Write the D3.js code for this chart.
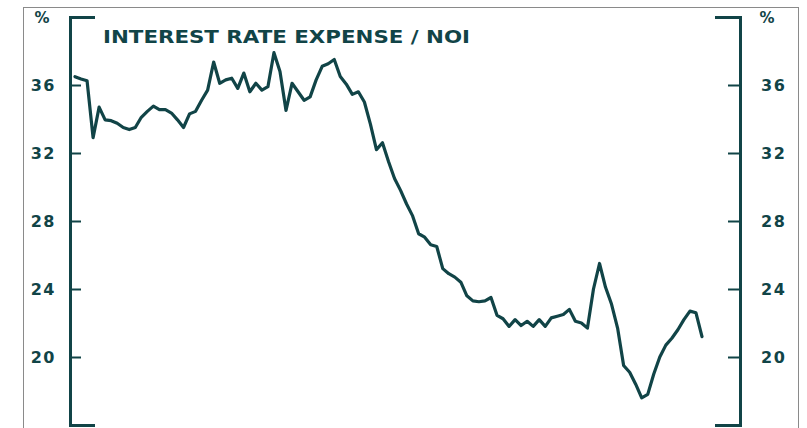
<!DOCTYPE html>
<html>
<head>
<meta charset="utf-8">
<script src="https://cdn.jsdelivr.net/npm/d3@7"></script>
<style>
  body { margin: 0; background: #fff; }
  svg { display: block; }
  text { font-family: "DejaVu Sans", sans-serif; }
</style>
</head>
<body>
<div id="chart"></div>
<script>
// quarterly series, interest rate expense as % of NOI
const quarters = d3.range(105);
const ratio = [
  36.49, 36.35, 36.25, 32.9, 34.7, 33.95, 33.9, 33.75, 33.5, 33.38,
  33.5, 34.1, 34.45, 34.76, 34.55, 34.55, 34.35, 33.95, 33.5, 34.3,
  34.45, 35.1, 35.7, 37.35, 36.1, 36.3, 36.4, 35.8, 36.7, 35.6,
  36.1, 35.7, 35.9, 37.9, 36.8, 34.5, 36.1, 35.6, 35.1, 35.3,
  36.3, 37.1, 37.25, 37.5, 36.5, 36.05, 35.45, 35.6, 35.0, 33.7,
  32.2, 32.6, 31.5, 30.5, 29.8, 29.0, 28.3, 27.25, 27.05, 26.6,
  26.5, 25.2, 24.9, 24.7, 24.4, 23.6, 23.3, 23.25, 23.3, 23.5,
  22.45, 22.25, 21.8, 22.2, 21.85, 22.1, 21.8, 22.2, 21.8, 22.3,
  22.4, 22.5, 22.8, 22.1, 22.0, 21.7, 24.0, 25.5, 24.1, 23.1,
  21.7, 19.5, 19.1, 18.4, 17.6, 17.8, 19.0, 20.0, 20.7, 21.1,
  21.6, 22.2, 22.7, 22.6, 21.2
];
const yTicks = [20, 24, 28, 32, 36];
const title = 'INTEREST RATE EXPENSE / NOI';

const width = 807;
const height = 428;
const ink = '#114447';

const svg = d3.select('#chart').append('svg').attr('width', width).attr('height', height);

// outer frame
svg.append('rect').attr('x', 23.5).attr('y', 7.5).attr('width', 775).attr('height', 440)
  .attr('fill', 'none').attr('stroke', '#8a8a8a').attr('stroke-width', 1);

const x = d3.scaleLinear().domain([0, quarters.length - 1]).range([75, 702]);
const y = d3.scaleLinear().domain([16, 40]).range([425, 17]);

function styleAxis(g) {
  g.select('.domain').attr('stroke', ink).attr('stroke-width', 3);
  g.selectAll('.tick line').attr('stroke', ink).attr('stroke-width', 2);
  g.selectAll('.tick text').attr('fill', ink).attr('font-size', 16).attr('font-weight', 'bold')
    .attr('letter-spacing', 1.5).attr('font-family', '"DejaVu Sans", sans-serif');
}

svg.append('g').attr('transform', 'translate(70,0)')
  .call(d3.axisLeft(y).tickValues(yTicks).tickSize(-11).tickSizeOuter(-25).tickPadding(14))
  .call(styleAxis);

svg.append('g').attr('transform', 'translate(740,0)')
  .call(d3.axisRight(y).tickValues(yTicks).tickSize(-12).tickSizeOuter(-25).tickPadding(21))
  .call(styleAxis);

// unit labels
svg.append('text').attr('x', 42).attr('y', 23).attr('text-anchor', 'middle')
  .attr('font-size', 15).attr('font-weight', 'bold').attr('fill', ink).text('%');
svg.append('text').attr('x', 767).attr('y', 23).attr('text-anchor', 'middle')
  .attr('font-size', 15).attr('font-weight', 'bold').attr('fill', ink).text('%');

svg.append('text').attr('x', 103).attr('y', 43)
  .attr('font-size', 18).attr('font-weight', 'bold').attr('fill', ink)
  .attr('textLength', 367).attr('lengthAdjust', 'spacingAndGlyphs')
  .text(title);

const line = d3.line().x((d, i) => x(quarters[i])).y(d => y(d));

svg.append('path').datum(ratio)
  .attr('d', line)
  .attr('fill', 'none')
  .attr('stroke', ink)
  .attr('stroke-width', 3.2)
  .attr('stroke-linejoin', 'round')
  .attr('stroke-linecap', 'round');
</script>
</body>
</html>
